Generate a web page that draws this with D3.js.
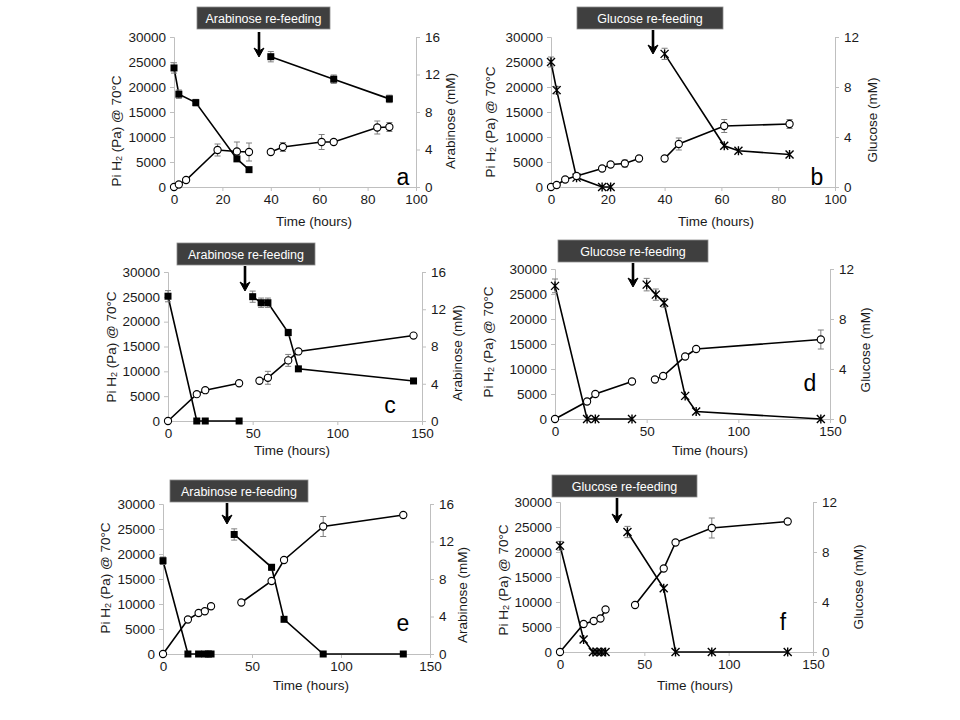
<!DOCTYPE html>
<html><head><meta charset="utf-8">
<script src="https://cdn.jsdelivr.net/npm/d3@7"></script>
<style>body{margin:0;background:#fff}svg{display:block;font-family:"Liberation Sans",Arial,sans-serif}</style>
</head><body><svg id="c" width="960" height="720"></svg>
<script>
// ---------- DATA ----------
// Panel a (arabinose, mM) and H2 (Pa)
const aSugarT = [0, 2, 9, 26, 31, 40, 66, 89];
const aSugarV = [12.7, 9.9, 9.0, 3.0, 1.85, 13.9, 11.5, 9.4];
const aSugarE = [0.55, 0.45, 0.35, 0, 0, 0.55, 0.45, 0.4];
const aSugarSeg = [0, 0, 0, 0, 0, 1, 1, 1];
const aH2T = [0, 2, 5, 18, 26, 31, 40, 45, 61, 66, 84, 89];
const aH2V = [0, 500, 1400, 7400, 7100, 7000, 7000, 8000, 9000, 9000, 11900, 12000];
const aH2E = [0, 0, 0, 1200, 1900, 1800, 0, 900, 1500, 500, 1300, 900];
const aH2Seg = [0, 0, 0, 0, 0, 0, 1, 1, 1, 1, 1, 1];
// Panel b (glucose, mM)
const bSugarT = [0, 2, 9, 18, 21, 40, 61, 66, 84];
const bSugarV = [10.0, 7.75, 0.75, 0, 0, 10.65, 3.3, 2.9, 2.6];
const bSugarE = [0.4, 0.3, 0, 0, 0, 0.45, 0, 0, 0];
const bSugarSeg = [0, 0, 0, 0, 0, 1, 1, 1, 1];
const bH2T = [0, 2, 5, 9, 18, 21, 26, 31, 40, 45, 61, 84];
const bH2V = [0, 400, 1500, 2200, 3700, 4500, 4700, 5700, 5700, 8600, 12200, 12600];
const bH2E = [0, 0, 0, 0, 0, 0, 700, 0, 0, 1200, 1300, 900];
const bH2Seg = [0, 0, 0, 0, 0, 0, 0, 0, 1, 1, 1, 1];
// Panel c (arabinose, mM)
const cSugarT = [0, 17, 22, 42, 50, 55, 59, 71, 77, 145];
const cSugarV = [13.4, 0, 0, 0, 13.35, 12.7, 12.7, 9.5, 5.6, 4.3];
const cSugarE = [0.6, 0, 0, 0, 0.6, 0.5, 0.5, 0.35, 0, 0];
const cSugarSeg = [0, 0, 0, 0, 1, 1, 1, 1, 1, 1];
const cH2T = [0, 17, 22, 42, 54, 59, 71, 77, 145];
const cH2V = [0, 5400, 6200, 7600, 8100, 8700, 12200, 14000, 17200];
const cH2E = [0, 0, 0, 0, 0, 1300, 1200, 0, 0];
const cH2Seg = [0, 0, 0, 0, 1, 1, 1, 1, 1];
// Panel d (glucose, mM)
const dSugarT = [0, 17.5, 22, 42, 50, 55, 59.5, 71, 77, 145];
const dSugarV = [10.65, 0, 0, 0, 10.75, 9.95, 9.3, 1.85, 0.6, 0];
const dSugarE = [0.55, 0, 0, 0, 0.5, 0.45, 0.35, 0, 0, 0];
const dSugarSeg = [0, 0, 0, 0, 1, 1, 1, 1, 1, 1];
const dH2T = [0, 17.5, 22, 42, 54.5, 59, 71, 77, 145];
const dH2V = [0, 3500, 5000, 7500, 7900, 8600, 12500, 14000, 15900];
const dH2E = [0, 0, 0, 0, 0, 0, 0, 0, 1900];
const dH2Seg = [0, 0, 0, 0, 1, 1, 1, 1, 1];
// Panel e (arabinose, mM)
const eSugarT = [0, 14, 20, 23.5, 25.5, 27, 40, 61, 68, 90, 135];
const eSugarV = [9.95, 0, 0, 0, 0, 0, 12.75, 9.25, 3.7, 0, 0];
const eSugarE = [0.4, 0, 0, 0, 0, 0, 0.6, 0.3, 0, 0, 0];
const eSugarSeg = [0, 0, 0, 0, 0, 0, 1, 1, 1, 1, 1];
const eH2T = [0, 14, 20, 23.5, 27, 44, 61, 68, 90, 135];
const eH2V = [0, 6900, 8200, 8550, 9550, 10300, 14600, 18800, 25500, 27800];
const eH2E = [0, 0, 0, 0, 0, 0, 0, 0, 2000, 0];
const eH2Seg = [0, 0, 0, 0, 0, 1, 1, 1, 1, 1];
// Panel f (glucose, mM)
const fSugarT = [0, 14, 19.5, 22, 24.5, 27, 40, 61.5, 68.5, 90, 135];
const fSugarV = [8.5, 1.0, 0, 0, 0, 0, 9.6, 5.1, 0, 0, 0];
const fSugarE = [0.35, 0, 0, 0, 0, 0, 0.45, 0, 0, 0, 0];
const fSugarSeg = [0, 0, 0, 0, 0, 0, 1, 1, 1, 1, 1];
const fH2T = [0, 14, 20, 24, 27, 44.5, 61.5, 68.5, 90, 135];
const fH2V = [0, 5600, 6200, 6700, 8500, 9400, 16700, 21900, 24800, 26100];
const fH2E = [0, 0, 0, 0, 0, 0, 0, 0, 2000, 0];
const fH2Seg = [0, 0, 0, 0, 0, 1, 1, 1, 1, 1];

const xTicksShort = [0, 20, 40, 60, 80, 100];
const xTicksLong = [0, 50, 100, 150];
const leftTicks = [0, 5000, 10000, 15000, 20000, 25000, 30000];
const araTicks = [0, 4, 8, 12, 16];
const gluTicks = [0, 4, 8, 12];
const letters = ["a", "b", "c", "d", "e", "f"];
const boxTexts = ["Arabinose re-feeding", "Glucose re-feeding"];
const xTitle = "Time (hours)";
const rightTitles = ["Arabinose (mM)", "Glucose  (mM)", "Glucose (mM)"];

// ---------- LAYOUT ----------
const panels = [
 {id:"a", x0:174,x1:416,yT:37,yB:187, xMax:100, xt:xTicksShort, rMax:16, rt:araTicks, rTitle:rightTitles[0], marker:"square",
  sT:aSugarT,sV:aSugarV,sE:aSugarE,sS:aSugarSeg,hT:aH2T,hV:aH2V,hE:aH2E,hS:aH2Seg,
  box:[197,7,133,22], boxText:boxTexts[0], arrowX:259, arrowY:[32,57], letter:[403,185],
  lt:[116,131], rtPos:[450,121], xtPos:[314,226]},
 {id:"b", x0:551,x1:835,yT:37,yB:187, xMax:100, xt:xTicksShort, rMax:12, rt:gluTicks, rTitle:rightTitles[1], marker:"star",
  sT:bSugarT,sV:bSugarV,sE:bSugarE,sS:bSugarSeg,hT:bH2T,hV:bH2V,hE:bH2E,hS:bH2Seg,
  box:[577,7,146,22], boxText:boxTexts[1], arrowX:653, arrowY:[30,54], letter:[817,185],
  lt:[490,122], rtPos:[872,120], xtPos:[716,226]},
 {id:"c", x0:168,x1:422,yT:272,yB:421, xMax:150, xt:xTicksLong, rMax:16, rt:araTicks, rTitle:rightTitles[0], marker:"square",
  sT:cSugarT,sV:cSugarV,sE:cSugarE,sS:cSugarSeg,hT:cH2T,hV:cH2V,hE:cH2E,hS:cH2Seg,
  box:[177,243,138,22], boxText:boxTexts[0], arrowX:245, arrowY:[266,291], letter:[390,413],
  lt:[111,347], rtPos:[457,353], xtPos:[292,455]},
 {id:"d", x0:555,x1:830,yT:269,yB:419, xMax:150, xt:xTicksLong, rMax:12, rt:gluTicks, rTitle:rightTitles[2], marker:"star",
  sT:dSugarT,sV:dSugarV,sE:dSugarE,sS:dSugarSeg,hT:dH2T,hV:dH2V,hE:dH2E,hS:dH2Seg,
  box:[558,240,150,22], boxText:boxTexts[1], arrowX:633, arrowY:[263,287], letter:[810,391],
  lt:[488,342], rtPos:[865,350], xtPos:[710,455]},
 {id:"e", x0:163,x1:430,yT:504,yB:654, xMax:150, xt:xTicksLong, rMax:16, rt:araTicks, rTitle:rightTitles[0], marker:"square",
  sT:eSugarT,sV:eSugarV,sE:eSugarE,sS:eSugarSeg,hT:eH2T,hV:eH2V,hE:eH2E,hS:eH2Seg,
  box:[170,480,138,22], boxText:boxTexts[0], arrowX:227, arrowY:[503,524], letter:[403,631],
  lt:[105,578], rtPos:[462,595], xtPos:[311,690]},
 {id:"f", x0:560,x1:813,yT:502,yB:652, xMax:150, xt:xTicksLong, rMax:12, rt:gluTicks, rTitle:rightTitles[2], marker:"star",
  sT:fSugarT,sV:fSugarV,sE:fSugarE,sS:fSugarSeg,hT:fH2T,hV:fH2V,hE:fH2E,hS:fH2Seg,
  box:[552,475,145,22], boxText:boxTexts[1], arrowX:617, arrowY:[498,523], letter:[783,630],
  lt:[503,580], rtPos:[858,587], xtPos:[695,690]}
];

const svg = d3.select("#c");
const AX = "#bfbfbf", TXT = "#1a1a1a";

function styleAxis(g){
  g.selectAll(".domain").attr("stroke",AX);
  g.selectAll(".tick line").attr("stroke",AX);
  g.selectAll(".tick text").attr("fill",TXT).style("font-size","13.5px");
}

panels.forEach((p,i)=>{
  const g = svg.append("g");
  const x = d3.scaleLinear().domain([0,p.xMax]).range([p.x0,p.x1]);
  const yL = d3.scaleLinear().domain([0,30000]).range([p.yB,p.yT]);
  const yR = d3.scaleLinear().domain([0,p.rMax]).range([p.yB,p.yT]);

  g.append("g").attr("transform",`translate(0,${p.yB})`)
   .call(d3.axisBottom(x).tickValues(p.xt).tickSizeOuter(0).tickSize(4).tickPadding(3)).call(styleAxis);
  g.append("g").attr("transform",`translate(${p.x0},0)`)
   .call(d3.axisLeft(yL).tickValues(leftTicks).tickFormat(d3.format("d")).tickSizeOuter(0).tickSize(4).tickPadding(4)).call(styleAxis);
  g.append("g").attr("transform",`translate(${p.x1},0)`)
   .call(d3.axisRight(yR).tickValues(p.rt).tickSizeOuter(0).tickSize(4).tickPadding(5)).call(styleAxis);

  // left title
  const lt = g.append("text").attr("transform",`translate(${p.lt[0]},${p.lt[1]}) rotate(-90)`)
    .attr("text-anchor","middle").attr("dominant-baseline","central").attr("fill",TXT).style("font-size","13.5px");
  lt.append("tspan").text("Pi H");
  lt.append("tspan").text("2").style("font-size","9px").attr("dy",3);
  lt.append("tspan").text(" (Pa) @ 70°C").attr("dy",-3);
  // right title
  g.append("text").attr("transform",`translate(${p.rtPos[0]},${p.rtPos[1]}) rotate(-90)`)
    .attr("text-anchor","middle").attr("dominant-baseline","central").attr("fill",TXT).style("font-size","13.5px").text(p.rTitle);
  // x title
  g.append("text").attr("x",p.xtPos[0]).attr("y",p.xtPos[1]).attr("text-anchor","middle")
    .attr("fill",TXT).style("font-size","13.5px").text(xTitle);
  // letter
  g.append("text").attr("x",p.letter[0]).attr("y",p.letter[1]).attr("text-anchor","middle")
    .attr("fill","#000").style("font-size","23px").text(p.id);

  // box + arrow
  g.append("rect").attr("x",p.box[0]).attr("y",p.box[1]).attr("width",p.box[2]).attr("height",p.box[3])
    .attr("fill","#3f3f3f").attr("stroke","#8c8c8c").attr("stroke-width",0.8);
  g.append("text").attr("x",p.box[0]+p.box[2]/2).attr("y",p.box[1]+p.box[3]/2+0.5).attr("text-anchor","middle")
    .attr("dominant-baseline","central").attr("fill","#fff").style("font-size","12.5px").text(p.boxText);
  const ax = p.arrowX, ay0 = p.arrowY[0], ay1 = p.arrowY[1];
  g.append("line").attr("x1",ax).attr("x2",ax).attr("y1",ay0).attr("y2",ay1-4)
    .attr("stroke","#000").attr("stroke-width",2.6);
  g.append("path").attr("d",`M${ax-5},${ay1-9} L${ax},${ay1} L${ax+5},${ay1-9} L${ax},${ay1-6} Z`)
    .attr("fill","#000").attr("stroke","#000").attr("stroke-width",1).attr("stroke-linejoin","miter");

  // series helpers
  function drawSeries(T,V,E,S,yS){
    const pts = T.map((t,k)=>({t, v:V[k], e:E[k], s:S[k]}));
    const groups = d3.groups(pts, d=>d.s);
    const line = d3.line().x(d=>x(d.t)).y(d=>yS(d.v));
    groups.forEach(([k,arr])=>{
      g.append("path").attr("d",line(arr)).attr("fill","none").attr("stroke","#000").attr("stroke-width",1.6);
    });
    pts.filter(d=>d.e>0).forEach(d=>{
      const cx=x(d.t), y1=yS(d.v+d.e), y2=yS(d.v-d.e);
      g.append("line").attr("x1",cx).attr("x2",cx).attr("y1",y1).attr("y2",y2).attr("stroke","#7f7f7f").attr("stroke-width",1);
      [y1,y2].forEach(yy=>g.append("line").attr("x1",cx-3).attr("x2",cx+3).attr("y1",yy).attr("y2",yy).attr("stroke","#7f7f7f").attr("stroke-width",1));
    });
    return pts;
  }
  const hPts = drawSeries(p.hT,p.hV,p.hE,p.hS,yL);
  const sPts = drawSeries(p.sT,p.sV,p.sE,p.sS,yR);
  if(p.marker==="square"){
    g.selectAll(null).data(sPts).join("rect").attr("x",d=>x(d.t)-3.5).attr("y",d=>yR(d.v)-3.5)
      .attr("width",7).attr("height",7).attr("fill","#000");
  } else {
    g.selectAll(null).data(sPts).join("path").attr("transform",d=>`translate(${x(d.t)},${yR(d.v)})`)
      .attr("d","M-4,-4L4,4M-4,4L4,-4M0,-4.5L0,4.5").attr("stroke","#000").attr("stroke-width",1.4).attr("fill","none");
  }
  g.selectAll(null).data(hPts).join("circle").attr("cx",d=>x(d.t)).attr("cy",d=>yL(d.v)).attr("r",3.6)
    .attr("fill","#fff").attr("stroke","#000").attr("stroke-width",1.1);
});
</script></body></html>
